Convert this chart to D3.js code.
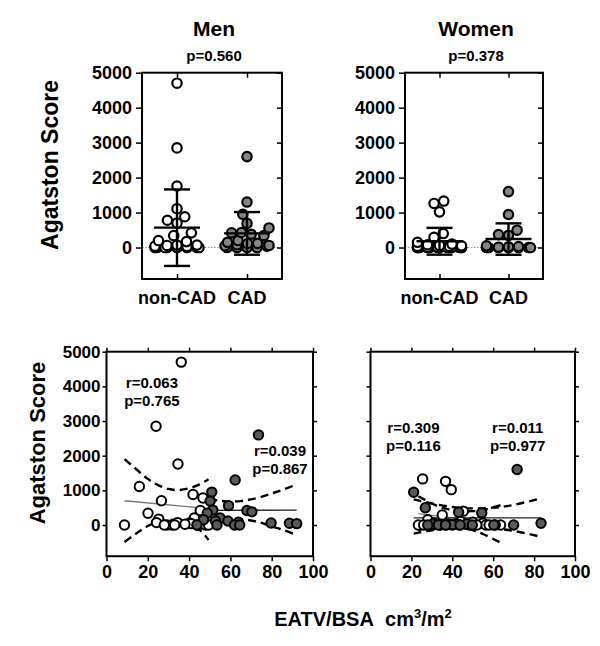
<!DOCTYPE html>
<html><head><meta charset="utf-8">
<script src="https://cdn.jsdelivr.net/npm/d3@7"></script>
<style>
body{margin:0;background:#fff}
text{font-family:"Liberation Sans",Arial,sans-serif;font-weight:bold;fill:#000}
</style>
</head><body>
<svg id="chart" width="600" height="646"></svg>
<script>
// ---------------- DATA ----------------
const groups = ["non-CAD", "CAD"];
const yTicks = [0, 1000, 2000, 3000, 4000, 5000];
const xTicks = [0, 20, 40, 60, 80, 100];
const panelTitles = ["Men", "Women"];
const groupP = ["p=0.560", "p=0.378"];

// Agatston score and EATV/BSA, paired by index
const menNonCADScore = [4700,2850,1760,1110,880,780,700,420,340,200,170,70,70,60,40,30,20,0,0,0,0,0,0,0,0];
const menNonCADEatv  = [36.2,24.0,34.6,15.9,41.9,46.7,26.6,45.4,20.1,42.5,25.3,24.2,34.4,40.2,41.0,46.2,38.0,8.7,29.3,31.7,28.0,44.0,48.0,49.4,33.0];
const menCADScore = [2600,1300,950,690,560,430,420,380,340,200,150,120,115,80,60,50,40,0,0,0,0];
const menCADEatv  = [73.6,62.3,51.0,50.2,59.1,51.5,68.0,70.4,48.8,55.0,47.0,52.7,58.8,63.9,79.7,88.6,92.1,43.8,53.5,62.0,64.5];
const womenNonCADScore = [1330,1260,1020,400,290,150,100,80,60,50,40,30,20,10,0,0,0,0,0,0,0,0,0,0,0,0,0];
const womenNonCADEatv  = [25.5,36.7,39.5,45.4,35.1,28.0,44.0,50.0,31.0,55.0,42.0,38.0,47.0,33.0,23.4,43.5,48.3,56.4,63.6,26.0,30.0,34.0,40.0,52.0,58.0,61.0,37.0];
const womenCADScore = [1600,945,496,370,350,50,30,20,10,0,0,0,0,0,0,0];
const womenCADEatv  = [71.7,21.1,26.8,43.1,54.4,83.4,47.0,30.5,40.0,28.0,33.2,36.7,43.8,49.8,60.3,70.0];

// regression fits with 95% confidence bands
const fitMenNonX  = [8.7,15,20,25,30,35,40,45,49.4];
const fitMenNonHi = [1900,1580,1330,1150,1040,1010,1060,1170,1320];
const fitMenNonLo = [-490,-220,-30,90,140,130,50,-130,-430];
const fitMenNonLine = [700,470];
const fitMenCadX  = [43.8,50,55,60,65,70,75,80,85,92.1];
const fitMenCadHi = [880,760,700,675,690,740,810,910,1010,1170];
const fitMenCadLo = [-10,110,160,180,170,130,60,-40,-130,-290];
const fitMenCadLine = [420,430];
const fitWomenNonX  = [23.4,30,35,40,45,50,55,63.6];
const fitWomenNonHi = [830,620,500,430,400,400,430,570];
const fitWomenNonLo = [-170,0,40,20,-50,-150,-260,-510];
const fitWomenNonLine = [330,30];
const fitWomenCadX  = [21.1,30,40,50,60,70,83.4];
const fitWomenCadHi = [740,620,520,480,500,580,770];
const fitWomenCadLo = [-250,-150,-90,-70,-100,-170,-340];
const fitWomenCadLine = [205,205];

const corrLabels = [["r=0.063","p=0.765"],["r=0.039","p=0.867"],["r=0.309","p=0.116"],["r=0.011","p=0.977"]];

// ---------------- DRAW ----------------
const svg = d3.select("#chart");
const yDomain = [-900, 5000];
const GRAY_TOP = "#858585", GRAY_BOT = "#5a5a5a";

function styleAxis(g, fs){
  g.select(".domain").remove();
  g.selectAll(".tick line").attr("stroke","#000").attr("stroke-width",1.5);
  g.selectAll(".tick text").style("font-size",fs+"px").style("font-weight","bold")
    .style("font-family","'Liberation Sans',Arial,sans-serif").attr("fill","#000");
}

function swarm(values, yS, cx, r, maxW){
  const pts = values.map(v=>({v, y:yS(v)})).sort((a,b)=>a.v-b.v);
  const d = 2*r + 0.6;
  const placed = [];
  for (const p of pts){
    const iv = [];
    for (const q of placed){
      const dy = Math.abs(q.y-p.y);
      if (dy < d){ const dx = Math.sqrt(d*d-dy*dy); iv.push([q.dx-dx, q.dx+dx]); }
    }
    const cands = [0]; iv.forEach(([a,b])=>cands.push(a,b));
    cands.sort((a,b)=>Math.abs(a)-Math.abs(b) || a-b);
    let x = null;
    for (const c of cands){
      if (Math.abs(c) > maxW) break;
      if (iv.every(([a,b])=> c<=a+1e-6 || c>=b-1e-6)){ x=c; break; }
    }
    if (x===null){
      let best=0, bestCost=Infinity;
      for (let t=-maxW; t<=maxW; t+=0.5){
        let cost=0;
        for (const q of placed){
          const dist=Math.hypot(q.dx-t,q.y-p.y);
          if (dist<d) cost += (d-dist);
        }
        if (cost<bestCost-1e-9){bestCost=cost;best=t;}
      }
      x=best;
    }
    placed.push({v:p.v, y:p.y, dx:x, x:cx+x});
  }
  return placed;
}

// ---- top panels ----
const topPanels = [
  {x0:142, x1:282, data:[menNonCADScore, menCADScore], title:panelTitles[0], p:groupP[0]},
  {x0:405, x1:543, data:[womenNonCADScore, womenCADScore], title:panelTitles[1], p:groupP[1]}
];
const topY = d3.scaleLinear().domain(yDomain).range([279, 72.7]);

topPanels.forEach(P=>{
  const g = svg.append("g");
  const x = d3.scalePoint().domain(groups).range([P.x0, P.x1]).padding(0.5);
  g.append("line").attr("x1",P.x0).attr("x2",P.x1).attr("y1",topY(0)).attr("y2",topY(0))
    .attr("stroke","#777").attr("stroke-width",0.8).attr("stroke-dasharray","1.5,1.5");
  const la = g.append("g").attr("transform",`translate(${P.x0},0)`)
    .call(d3.axisLeft(topY).tickValues(yTicks).tickSize(6).tickPadding(4).tickFormat(d3.format("d")));
  styleAxis(la,18);
  const ra = g.append("g").attr("transform",`translate(${P.x1},0)`)
    .call(d3.axisRight(topY).tickValues(yTicks).tickSize(-5).tickFormat(""));
  styleAxis(ra,16);
  const ta = g.append("g").attr("transform",`translate(0,${topY(5000)})`)
    .call(d3.axisTop(x).tickSize(-5).tickFormat(""));
  styleAxis(ta,16);
  const ba = g.append("g").attr("transform",`translate(0,${topY(-900)})`)
    .call(d3.axisBottom(x).tickSize(-5).tickFormat(""));
  styleAxis(ba,16);
  g.selectAll("text.cat").data(groups).join("text").attr("class","cat")
    .attr("x",d=>x(d)).attr("y",304).attr("text-anchor","middle").style("font-size","18px").text(d=>d);
  P.data.forEach((vals,gi)=>{
    const pts = swarm(vals, topY, x(groups[gi]), 4.7, 22);
    g.selectAll(null).data(pts).join("circle")
      .attr("cx",d=>d.x).attr("cy",d=>d.y).attr("r",4.7)
      .attr("fill", gi===0 ? "#fff" : GRAY_TOP).attr("stroke","#000").attr("stroke-width",2.2);
  });
  P.data.forEach((vals,gi)=>{
    const m = d3.mean(vals), s = d3.deviation(vals), cx = x(groups[gi]);
    const eb = g.append("g").attr("stroke","#000").attr("stroke-width",2.4);
    eb.append("line").attr("x1",cx).attr("x2",cx).attr("y1",topY(m-s)).attr("y2",topY(m+s));
    eb.append("line").attr("x1",cx-23).attr("x2",cx+23).attr("y1",topY(m)).attr("y2",topY(m));
    eb.append("line").attr("x1",cx-13).attr("x2",cx+13).attr("y1",topY(m+s)).attr("y2",topY(m+s));
    eb.append("line").attr("x1",cx-13).attr("x2",cx+13).attr("y1",topY(m-s)).attr("y2",topY(m-s));
  });
  g.append("rect").attr("x",P.x0).attr("y",topY(5000)).attr("width",P.x1-P.x0).attr("height",topY(-900)-topY(5000))
    .attr("fill","none").attr("stroke","#000").attr("stroke-width",2);
  const cx = (P.x0+P.x1)/2 + 2;
  svg.append("text").attr("x",cx).attr("y",36).attr("text-anchor","middle").style("font-size","21px").text(P.title);
  svg.append("text").attr("x",cx).attr("y",61).attr("text-anchor","middle").style("font-size","15px").text(P.p);
});

// ---- bottom panels ----
const botY = d3.scaleLinear().domain(yDomain).range([556.2, 351.7]);
const botPanels = [
  {x0:106.5, x1:313, labels:true,
   open:[menNonCADEatv, menNonCADScore], fill:[menCADEatv, menCADScore],
   fits:[{x:fitMenNonX,hi:fitMenNonHi,lo:fitMenNonLo,line:fitMenNonLine,col:"#777"},
         {x:fitMenCadX,hi:fitMenCadHi,lo:fitMenCadLo,line:fitMenCadLine,col:"#222"}],
   ann:[{t:corrLabels[0],x:22,y:3950},{t:corrLabels[1],x:84,y:1980}]},
  {x0:370.5, x1:575, labels:false,
   open:[womenNonCADEatv, womenNonCADScore], fill:[womenCADEatv, womenCADScore],
   fits:[{x:fitWomenNonX,hi:fitWomenNonHi,lo:fitWomenNonLo,line:fitWomenNonLine,col:"#777"},
         {x:fitWomenCadX,hi:fitWomenCadHi,lo:fitWomenCadLo,line:fitWomenCadLine,col:"#222"}],
   ann:[{t:corrLabels[2],x:21,y:2650},{t:corrLabels[3],x:72,y:2650}]}
];

botPanels.forEach(P=>{
  const g = svg.append("g");
  const x = d3.scaleLinear().domain([0,100]).range([P.x0,P.x1]);
  const la = g.append("g").attr("transform",`translate(${P.x0},0)`)
    .call(d3.axisLeft(botY).tickValues(yTicks).tickSize(4).tickPadding(2).tickFormat(P.labels? d3.format("d") : ""));
  styleAxis(la,17);
  const ra = g.append("g").attr("transform",`translate(${P.x1},0)`)
    .call(d3.axisRight(botY).tickValues(yTicks).tickSize(4).tickFormat(""));
  styleAxis(ra,16);
  const ta = g.append("g").attr("transform",`translate(0,${botY(5000)})`)
    .call(d3.axisTop(x).tickValues(xTicks).tickSize(4).tickFormat(""));
  styleAxis(ta,16);
  const ba = g.append("g").attr("transform",`translate(0,${botY(-900)})`)
    .call(d3.axisBottom(x).tickValues(xTicks).tickSize(5).tickPadding(4).tickFormat(d3.format("d")));
  styleAxis(ba,18);

  P.fits.forEach(f=>{
    const pts = f.x.map((xv,i)=>({x:xv, hi:f.hi[i], lo:f.lo[i]}));
    const lHi = d3.line().x(d=>x(d.x)).y(d=>botY(d.hi)).curve(d3.curveNatural);
    const lLo = d3.line().x(d=>x(d.x)).y(d=>botY(d.lo)).curve(d3.curveNatural);
    [lHi,lLo].forEach(l=> g.append("path").attr("d",l(pts)).attr("fill","none")
      .attr("stroke","#000").attr("stroke-width",2.4).attr("stroke-dasharray","8,5"));
    const xs = d3.extent(f.x);
    g.append("line").attr("x1",x(xs[0])).attr("x2",x(xs[1])).attr("y1",botY(f.line[0])).attr("y2",botY(f.line[1]))
      .attr("stroke",f.col).attr("stroke-width",1.3);
  });

  const op = P.open[0].map((e,i)=>({e, s:P.open[1][i]}));
  g.selectAll(null).data(op).join("circle").attr("cx",d=>x(d.e)).attr("cy",d=>botY(d.s)).attr("r",4.7)
    .attr("fill","#fff").attr("stroke","#000").attr("stroke-width",2);
  const fp = P.fill[0].map((e,i)=>({e, s:P.fill[1][i]}));
  g.selectAll(null).data(fp).join("circle").attr("cx",d=>x(d.e)).attr("cy",d=>botY(d.s)).attr("r",4.7)
    .attr("fill",GRAY_BOT).attr("stroke","#000").attr("stroke-width",2);

  P.ann.forEach(a=>{
    a.t.forEach((line,i)=>{
      g.append("text").attr("x",x(a.x)).attr("y",botY(a.y)+i*17.5).attr("text-anchor","middle")
        .style("font-size","15px").text(line);
    });
  });

  g.append("rect").attr("x",P.x0).attr("y",botY(5000)).attr("width",P.x1-P.x0).attr("height",botY(-900)-botY(5000))
    .attr("fill","none").attr("stroke","#000").attr("stroke-width",2);
});

svg.append("text").attr("transform","translate(58,165) rotate(-90)").attr("text-anchor","middle")
  .style("font-size","23px").text("Agatston Score");
svg.append("text").attr("transform","translate(45,443) rotate(-90)").attr("text-anchor","middle")
  .style("font-size","22px").text("Agatston Score");
const xt = svg.append("text").attr("x",363).attr("y",626).attr("text-anchor","middle").style("font-size","20px");
xt.append("tspan").text("EATV/BSA\u00a0\u00a0cm");
xt.append("tspan").attr("dy",-8).style("font-size","13px").text("3");
xt.append("tspan").attr("dy",8).text("/m");
xt.append("tspan").attr("dy",-8).style("font-size","13px").text("2");
</script>
</body></html>
